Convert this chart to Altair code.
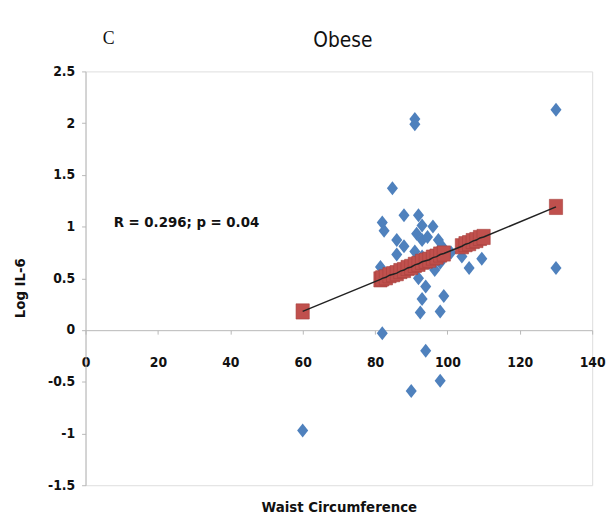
import altair as alt
import pandas as pd

# Observed values (blue diamonds)
waist_obs = [60, 91, 91, 84.8, 82, 82.5, 88, 92, 93, 96, 86, 88, 91.5, 93, 94.5, 97.5,
             98.5, 86, 91, 93, 81.5, 96.5, 98, 104, 106, 109.5, 92, 94, 93, 99, 92.5,
             98, 82, 94, 90, 98, 130, 130, 95, 89, 101, 107, 84]
il6_obs = [-0.97, 2.04, 1.99, 1.37, 1.04, 0.96, 1.11, 1.11, 1.01, 1.0, 0.87, 0.81, 0.93,
           0.87, 0.9, 0.87, 0.81, 0.73, 0.76, 0.71, 0.61, 0.58, 0.65, 0.71, 0.6, 0.69,
           0.5, 0.42, 0.3, 0.33, 0.17, 0.18, -0.03, -0.2, -0.59, -0.49, 2.13, 0.6, 0.65,
           0.6, 0.75, 0.85, 0.55]

# Predicted values (red squares, on the fitted line)
waist_fit = [60, 81.5, 82, 83, 84, 85, 86, 87, 88, 89, 90, 91, 92, 93, 94, 95, 96, 97,
             98, 99, 104, 105, 106, 107, 108, 109, 110, 130]
il6_fit = [0.18, 0.49, 0.50, 0.51, 0.53, 0.54, 0.55, 0.57, 0.58, 0.60, 0.61, 0.63, 0.64,
           0.66, 0.67, 0.68, 0.70, 0.71, 0.73, 0.74, 0.81, 0.83, 0.84, 0.86, 0.87, 0.89,
           0.90, 1.19]

x_ticks = [0, 20, 40, 60, 80, 100, 120, 140]
y_ticks = [-1.5, -1, -0.5, 0, 0.5, 1, 1.5, 2, 2.5]

title_text = ["Obese"]
panel_label = ["C"]
stat_label = ["R = 0.296; p = 0.04"]

obs = pd.DataFrame({"waist": waist_obs, "logil6": il6_obs})
fit = pd.DataFrame({"waist": waist_fit, "logil6": il6_fit})

FONT = "Liberation Sans Narrow, DejaVu Sans Condensed, Arial Narrow, Liberation Sans, sans-serif"
AXIS_GRAY = "#b8b8b8"

xscale = alt.Scale(domain=[0, 140], nice=False, zero=False)
yscale = alt.Scale(domain=[-1.5, 2.5], nice=False, zero=False)

xaxis = alt.Axis(values=x_ticks, grid=False, offset=-157, tickSize=4, labelPadding=22,
                 domainColor=AXIS_GRAY, tickColor=AXIS_GRAY, labelFont=FONT,
                 labelFontSize=14, labelFontWeight="bold", labelColor="#111111",
                 labelFlush=False, labelExpr="'' + datum.value",
                 title="Waist Circumference", titleFont=FONT, titleFontSize=15,
                 titleFontWeight="bold", titleColor="#111111", titleY=179,
                 titleBaseline="middle")
yaxis = alt.Axis(values=y_ticks, grid=False, tickSize=4, labelPadding=7,
                 domainColor=AXIS_GRAY, tickColor=AXIS_GRAY, labelFont=FONT,
                 labelFontSize=14, labelFontWeight="bold", labelColor="#111111",
                 labelFlush=False, labelExpr="'' + datum.value",
                 title="Log IL-6", titleFont=FONT, titleFontSize=15,
                 titleFontWeight="bold", titleColor="#111111", titleAngle=270,
                 titleX=-67, titleY=219, titleBaseline="middle", titleAlign="center")

diamond = "M0,-1.27L1,0L0,1.27L-1,0Z"
square = "M-1,-1.15H1V1.15H-1Z"

pts = alt.Chart(obs).mark_point(shape=diamond, filled=True, size=125, opacity=1,
                                color="#4F81BD").encode(
    x=alt.X("waist:Q", scale=xscale, axis=xaxis),
    y=alt.Y("logil6:Q", scale=yscale, axis=yaxis),
)

pred = alt.Chart(fit).mark_point(shape=square, filled=True, size=180, opacity=1,
                                 color="#C0504D", stroke="#A8403D", strokeWidth=0.6).encode(
    x=alt.X("waist:Q", scale=xscale),
    y=alt.Y("logil6:Q", scale=yscale),
)

line = alt.Chart(fit).mark_line(color="#222222", strokeWidth=1.5).encode(
    x=alt.X("waist:Q", scale=xscale),
    y=alt.Y("logil6:Q", scale=yscale),
    order="waist:Q",
)

c_lab = alt.Chart(pd.DataFrame({"t": panel_label})).mark_text(
    font="Liberation Serif", fontSize=18, color="#111111", align="center",
    baseline="middle").encode(x=alt.value(23.5), y=alt.value(-33), text="t:N")

t_lab = alt.Chart(pd.DataFrame({"t": title_text})).mark_text(
    font=FONT, fontSize=21, color="#111111", align="center",
    baseline="middle").encode(x=alt.value(260.5), y=alt.value(-31), text="t:N")

r_lab = alt.Chart(pd.DataFrame({"t": stat_label})).mark_text(
    font=FONT, fontSize=15, fontWeight="bold", color="#111111", align="left",
    baseline="middle").encode(x=alt.value(28.5), y=alt.value(153), text="t:N")

chart = alt.layer(pts, pred, line, c_lab, t_lab, r_lab).properties(
    width=513, height=419,
    autosize=alt.AutoSizeParams(type="none"),
    padding={"left": 78.5, "top": 61, "right": 14, "bottom": 32},
).configure_view(stroke=None).configure(background="white")

chart.save("out.html", embed_options={"renderer": "svg", "actions": False})
